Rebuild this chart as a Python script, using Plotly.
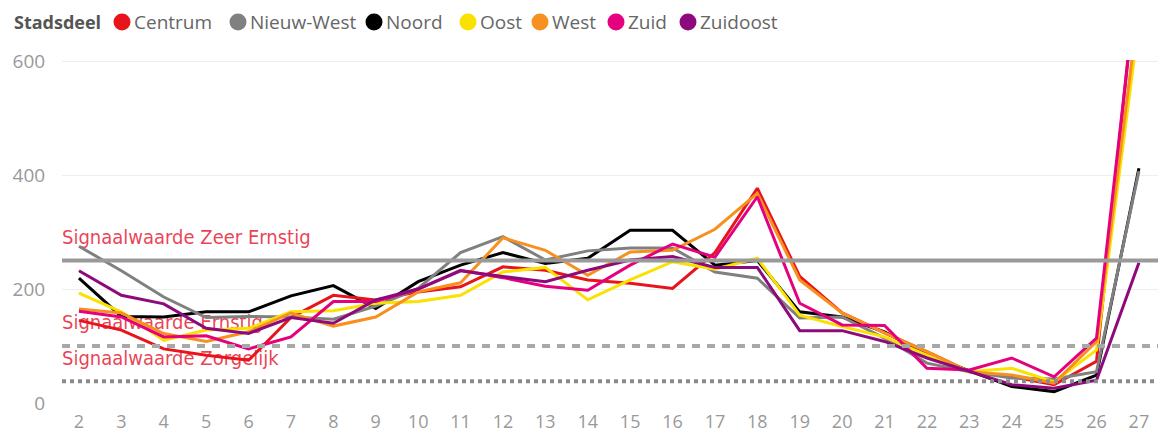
import plotly.graph_objects as go

weeks = list(range(2, 28))

centrum   = [145, 128, 95, 84, 75, 150, 189, 181, 195, 204, 239, 233, 216, 210, 201, 264, 377, 222, 158, 123, 90, 55, 46, 32, 73, 790]
nieuwwest = [275, 232, 186, 150, 152, 151, 147, 170, 201, 264, 292, 251, 267, 272, 272, 230, 219, 149, 151, 114, 70, 55, 44, 42, 55, 407]
noord     = [219, 152, 151, 160, 160, 188, 206, 166, 213, 242, 264, 245, 254, 303, 303, 242, 250, 160, 151, 125, 84, 57, 29, 20, 49, 412]
oost      = [193, 160, 110, 128, 131, 160, 162, 175, 178, 189, 230, 238, 181, 216, 248, 235, 254, 154, 134, 116, 84, 55, 61, 37, 93, 669]
west      = [165, 158, 122, 108, 125, 158, 135, 151, 195, 211, 290, 268, 224, 265, 268, 305, 368, 216, 158, 123, 90, 55, 49, 35, 108, 700]
zuid      = [161, 151, 116, 118, 95, 116, 178, 178, 200, 233, 220, 205, 198, 242, 279, 256, 362, 175, 137, 136, 61, 58, 79, 46, 114, 772]
zuidoost  = [232, 189, 174, 131, 122, 150, 140, 181, 200, 232, 222, 213, 233, 251, 257, 238, 238, 127, 127, 108, 79, 55, 32, 26, 40, 246]

series_names = ["Centrum", "Nieuw-West", "Noord", "Oost", "West", "Zuid", "Zuidoost"]
series_values = [centrum, nieuwwest, noord, oost, west, zuid, zuidoost]
series_colors = ["#E8141B", "#808080", "#000000", "#FAE100", "#F7901E", "#E5007E", "#8E0A7C"]
draw_order = ["Noord", "Centrum", "Nieuw-West", "Oost", "West", "Zuid", "Zuidoost"]

legend_title = "Stadsdeel"

thresholds = [250, 100, 38]
threshold_labels = ["Signaalwaarde Zeer Ernstig", "Signaalwaarde Ernstig", "Signaalwaarde Zorgelijk"]
threshold_dash = ["solid", "8px,7px", "4px,4px"]
threshold_colors = ["#9A9A9A", "#A8A8A8", "#8C8C8C"]
LABEL_OFFSET = 38

y_ticks = [0, 200, 400, 600]

# ---- layout / style constants ----
W, H = 1168, 433
ML, MR, MT, MB = 62, 10, 60, 30
PW, PH = W - ML - MR, H - MT - MB
LEGEND_Y_PX = 22
LEGEND_TITLE_X_PX = 12
LEGEND_CIRCLE_X_PX = [122, 238, 374, 468, 540, 616, 688]
LEGEND_TEXT_GAP_PX = 11
LEGEND_CIRCLE_D = 17


def px_to_paper_x(px):
    return (px - ML) / PW


def px_to_paper_y(py):
    return (H - MB - py) / PH


fig = go.Figure()

# threshold labels (beneath the lines)
fig.add_trace(go.Scatter(
    x=[1.6] * len(thresholds),
    y=[t + LABEL_OFFSET for t in thresholds],
    mode="text",
    text=threshold_labels,
    textposition="middle right",
    textfont=dict(family="Liberation Sans Narrow, DejaVu Sans Condensed, Open Sans", size=20,
                  color="rgba(232,40,60,0.88)"),
    showlegend=False, hoverinfo="skip", cliponaxis=False,
))

lookup = dict(zip(series_names, zip(series_values, series_colors)))
for name in draw_order:
    vals, col = lookup[name]
    fig.add_trace(go.Scatter(
        x=weeks, y=vals, mode="lines", name=name,
        line=dict(color=col, width=3), showlegend=False,
    ))

for t, d, c in zip(thresholds, threshold_dash, threshold_colors):
    fig.add_shape(type="line", xref="paper", x0=0, x1=1, yref="y", y0=t, y1=t,
                  line=dict(color=c, width=4, dash=d), layer="above")

# legend drawn as text + circles
ly = px_to_paper_y(LEGEND_Y_PX)
fig.add_annotation(xref="paper", yref="paper", x=px_to_paper_x(LEGEND_TITLE_X_PX), y=ly,
                   xanchor="left", yanchor="middle", showarrow=False,
                   text="<b>" + legend_title + "</b>",
                   font=dict(family="Open Sans, Noto Sans", size=18, color="#555555"))
for name, col, cx in zip(series_names, series_colors, LEGEND_CIRCLE_X_PX):
    fig.add_shape(type="circle", xref="paper", yref="paper",
                  xsizemode="pixel", ysizemode="pixel",
                  xanchor=px_to_paper_x(cx), yanchor=ly,
                  x0=-LEGEND_CIRCLE_D / 2, x1=LEGEND_CIRCLE_D / 2,
                  y0=-LEGEND_CIRCLE_D / 2, y1=LEGEND_CIRCLE_D / 2,
                  fillcolor=col, line=dict(width=0))
    fig.add_annotation(xref="paper", yref="paper", x=px_to_paper_x(cx + LEGEND_TEXT_GAP_PX), y=ly,
                       xanchor="left", yanchor="middle", showarrow=False, text=name,
                       xshift=-1,
                       font=dict(family="Open Sans, Noto Sans", size=19, color="#666666"))

fig.update_layout(
    width=W, height=H,
    margin=dict(l=ML, r=MR, t=MT, b=MB, autoexpand=False),
    paper_bgcolor="white", plot_bgcolor="white",
    font=dict(family="Open Sans, Noto Sans, sans-serif", color="#999999", size=19),
    showlegend=False,
    xaxis=dict(
        range=[1.6, 27.45], tickmode="array", tickvals=weeks,
        showgrid=False, zeroline=False, showline=False,
        ticks="outside", ticklen=2, tickcolor="white",
        tickfont=dict(size=18, color="#999999"),
    ),
    yaxis=dict(
        range=[0, 602], tickmode="array", tickvals=y_ticks,
        showgrid=True, gridcolor="#EEEEEE", gridwidth=1, zeroline=False, showline=False,
        ticks="outside", ticklen=12, tickcolor="white",
        tickfont=dict(size=19, color="#999999"),
    ),
)

fig.write_html(
    "out.html",
    config={"displayModeBar": False},
    post_script="document.body.style.margin='0';document.body.style.overflow='hidden';",
)
